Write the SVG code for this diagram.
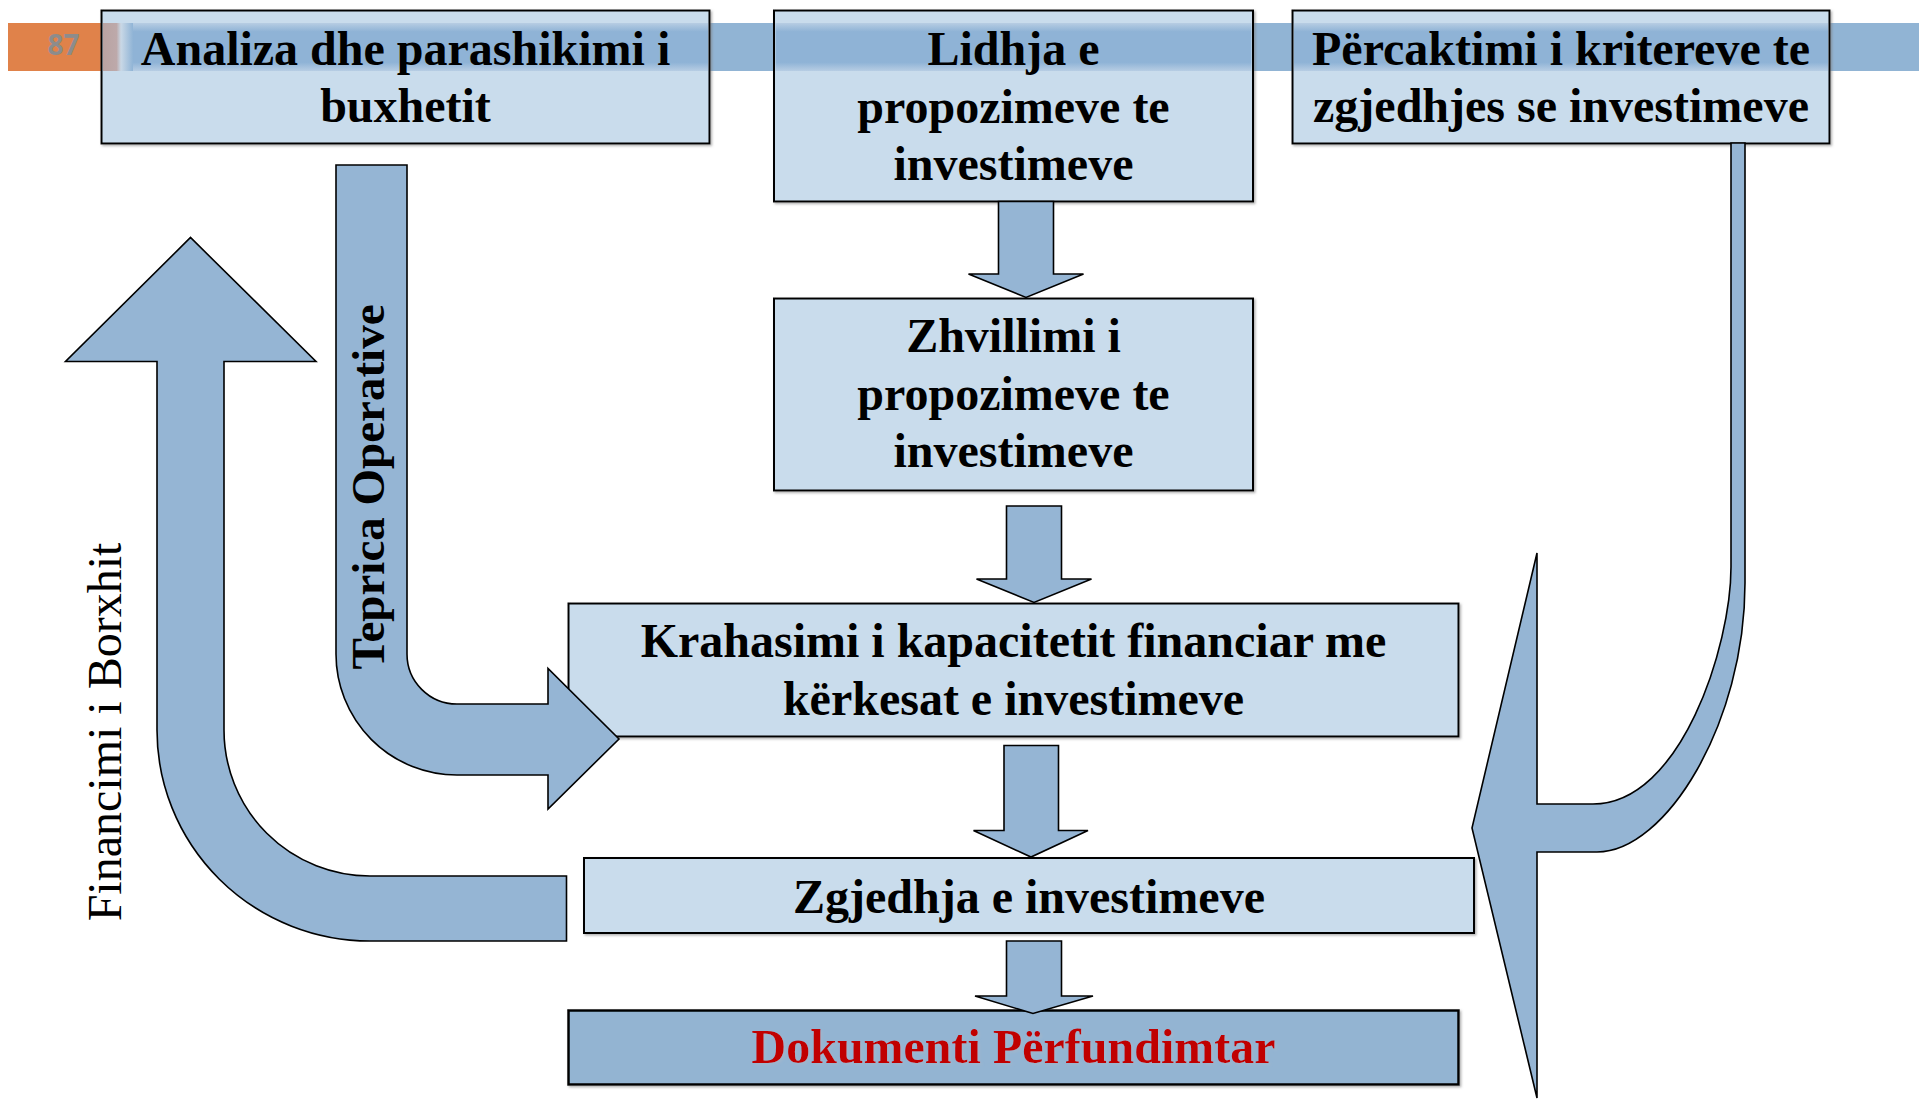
<svg xmlns="http://www.w3.org/2000/svg" width="1919" height="1101" viewBox="0 0 1919 1101">
  <defs>
    <filter id="boxShadow" x="-5%" y="-5%" width="110%" height="115%">
      <feDropShadow dx="1.5" dy="1.5" stdDeviation="0.8" flood-color="#7a7a7a" flood-opacity="0.6"/>
    </filter>
    <filter id="textShadow" x="-5%" y="-20%" width="110%" height="140%">
      <feDropShadow dx="2" dy="2" stdDeviation="1" flood-color="#9fb6cc" flood-opacity="0.9"/>
    </filter>
    <linearGradient id="bandEdge" x1="0" y1="0" x2="1" y2="0">
      <stop offset="0" stop-color="#b9a3a2"/>
      <stop offset="0.45" stop-color="#bda9aa"/>
      <stop offset="0.6" stop-color="#c9d8e6"/>
      <stop offset="1" stop-color="#90b4d6"/>
    </linearGradient>
    <linearGradient id="bandIn" x1="0" y1="0" x2="0" y2="1">
      <stop offset="0" stop-color="#b7cde3"/>
      <stop offset="0.18" stop-color="#8fb3d6"/>
      <stop offset="0.82" stop-color="#8fb3d6"/>
      <stop offset="1" stop-color="#b7cde3"/>
    </linearGradient>
  </defs>
  <style>
    .box { fill: #c9dcec; stroke: #000; stroke-width: 2; filter: url(#boxShadow); }
    .boxDark { fill: #93b4d2; stroke: #000; stroke-width: 2.5; filter: url(#boxShadow); }
    .band { fill: #91b4d4; }
    .bandIn { fill: url(#bandIn); }
    .arrow { fill: #95b5d4; stroke: #000; stroke-width: 1.6; stroke-linejoin: miter; }
    .lbl { font-family: "Liberation Serif", "Times New Roman", serif; font-weight: bold; font-size: 48px; fill: #000; text-anchor: middle; }
    .red { fill: #c00000; filter: url(#textShadow); }
    .side { font-family: "Liberation Serif", "Times New Roman", serif; font-size: 48px; fill: #000; text-anchor: middle; }
    .sideBold { font-family: "Liberation Serif", "Times New Roman", serif; font-weight: bold; font-size: 47px; fill: #000; text-anchor: middle; }
    .pg { font-family: "Open Sans", "Liberation Sans", sans-serif; font-weight: bold; font-size: 28px; fill: #8c8c8c; text-anchor: middle; }
  </style>

  <rect width="1919" height="1101" fill="#ffffff"/>

  <!-- slide header decoration -->
  <g id="header">
    <rect x="8" y="23" width="94" height="48" fill="#e0824a"/>
    <text class="pg" x="63.5" y="54.5">87</text>
    <rect class="band" x="101" y="23" width="1818" height="48"/>
  </g>

  <!-- nodes -->
  <g id="node-analiza">
    <rect class="box" x="101.5" y="10.5" width="608" height="133"/>
    <rect class="bandIn" x="103" y="23" width="605" height="48"/>
    <rect x="103" y="23" width="30" height="48" fill="url(#bandEdge)"/>
    <text class="lbl" x="405.5" y="65">Analiza dhe parashikimi i</text>
    <text class="lbl" x="405.5" y="122">buxhetit</text>
  </g>

  <g id="node-lidhja">
    <rect class="box" x="774" y="10.5" width="479" height="191"/>
    <rect class="bandIn" x="775.5" y="23" width="476" height="48"/>
    <text class="lbl" x="1013.5" y="65">Lidhja e</text>
    <text class="lbl" x="1013.5" y="122.5">propozimeve te</text>
    <text class="lbl" x="1013.5" y="180">investimeve</text>
  </g>

  <g id="node-percaktimi">
    <rect class="box" x="1292.5" y="10.5" width="537" height="133"/>
    <rect class="bandIn" x="1294" y="23" width="534" height="48"/>
    <text class="lbl" x="1561" y="65">Përcaktimi i kritereve te</text>
    <text class="lbl" x="1561" y="122">zgjedhjes se investimeve</text>
  </g>

  <g id="node-zhvillimi">
    <rect class="box" x="774" y="298.5" width="479" height="192"/>
    <text class="lbl" x="1013.5" y="352">Zhvillimi i</text>
    <text class="lbl" x="1013.5" y="410">propozimeve te</text>
    <text class="lbl" x="1013.5" y="467">investimeve</text>
  </g>

  <g id="node-krahasimi">
    <rect class="box" x="568.5" y="603.5" width="890" height="133"/>
    <text class="lbl" x="1013.5" y="657">Krahasimi i kapacitetit financiar me</text>
    <text class="lbl" x="1013.5" y="715">kërkesat e investimeve</text>
  </g>

  <g id="node-zgjedhja">
    <rect class="box" x="584" y="858" width="890" height="75"/>
    <text class="lbl" x="1029" y="913">Zgjedhja e investimeve</text>
  </g>

  <g id="node-dokumenti">
    <rect class="boxDark" x="568.5" y="1010.5" width="890" height="74"/>
    <text class="lbl red" x="1013.5" y="1063">Dokumenti Përfundimtar</text>
  </g>

  <!-- connectors -->
  <g id="connectors">
    <path class="arrow" d="M 998.5 201.5 L 1053.5 201.5 L 1053.5 274 L 1083.5 274 L 1026 297.5 L 968.5 274 L 998.5 274 Z"/>
    <path class="arrow" d="M 1006.5 506 L 1061.5 506 L 1061.5 579 L 1091.5 579 L 1034 602.5 L 976.5 579 L 1006.5 579 Z"/>
    <path class="arrow" d="M 1004 745.5 L 1058.5 745.5 L 1058.5 830.5 L 1088 830.5 L 1031 857 L 973.5 830.5 L 1004 830.5 Z"/>
    <path class="arrow" d="M 1006.5 941 L 1061.5 941 L 1061.5 996 L 1093 996 L 1033 1013.5 L 975 996 L 1006.5 996 Z"/>
    <!-- Teprica Operative bent arrow -->
    <path class="arrow" d="M 336 165 L 407 165 L 407 654 A 50 50 0 0 0 457 704 L 548 704 L 548 668.5 L 619 739 L 548 809 L 548 775 L 457 775 A 121 121 0 0 1 336 654 Z"/>
    <!-- Financimi i Borxhit bent arrow -->
    <path class="arrow" d="M 566.5 876 L 566.5 941 L 370 941 A 213 211 0 0 1 157 730 L 157 361.5 L 65.5 361.5 L 190.5 237.5 L 316 361.5 L 224 361.5 L 224 730 A 146 146 0 0 0 370 876 Z"/>
    <!-- criteria curved arrow -->
    <path class="arrow" d="M 1731 143 L 1745 143 L 1745 583 C 1745 723 1666 852 1597 852 L 1537 852 L 1537 1098 L 1472 828 L 1537 553 L 1537 804 L 1593 804 C 1681 804 1731 646 1731 567 Z"/>
  </g>

  <!-- arrow labels -->
  <g id="labels">
    <text class="sideBold" transform="translate(384,487) rotate(-90)">Teprica Operative</text>
    <text class="side" transform="translate(121,732) rotate(-90)">Financimi i Borxhit</text>
  </g>
</svg>
